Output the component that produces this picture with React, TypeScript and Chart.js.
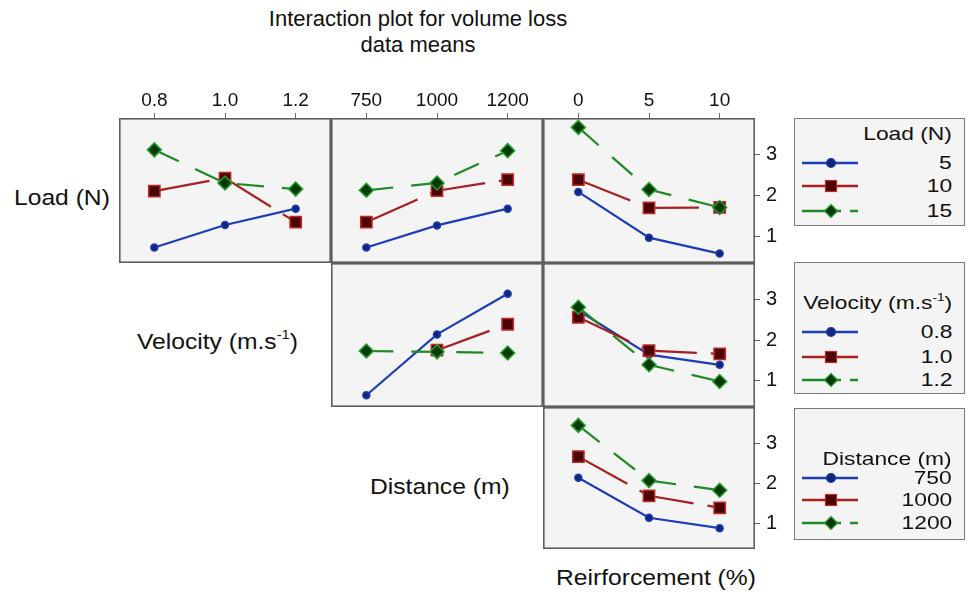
import React, { useEffect, useRef } from "react";
import { Chart, registerables } from "chart.js";
Chart.register(...registerables);

// ---------- data ----------
const velocityLevels = ["0.8", "1.0", "1.2"];
const distanceLevels = ["750", "1000", "1200"];
const reinforcementLevels = ["0", "5", "10"];
const loadLevels = ["5", "10", "15"];
const yTicks = [1, 2, 3];

// row Load (N)
const loadVel_5 = [0.73, 1.28, 1.68];
const loadVel_10 = [2.11, 2.43, 1.35];
const loadVel_15 = [3.12, 2.31, 2.16];
const loadDist_5 = [0.73, 1.27, 1.68];
const loadDist_10 = [1.35, 2.12, 2.39];
const loadDist_15 = [2.13, 2.31, 3.1];
const loadReinf_5 = [2.09, 0.97, 0.58];
const loadReinf_10 = [2.39, 1.7, 1.71];
const loadReinf_15 = [3.67, 2.15, 1.71];
// row Velocity
const velDist_08 = [0.64, 2.14, 3.14];
const velDist_10 = [null, 1.75, 2.39];
const velDist_12 = [1.73, 1.71, 1.68];
const velReinf_08 = [2.73, 1.64, 1.39];
const velReinf_10 = [2.56, 1.74, 1.66];
const velReinf_12 = [2.81, 1.39, 0.98];
// row Distance
const distReinf_750 = [2.13, 1.13, 0.87];
const distReinf_1000 = [2.66, 1.68, 1.38];
const distReinf_1200 = [3.44, 2.06, 1.82];

// ---------- layout ----------
const FONT = "'Liberation Sans', Arial, Helvetica, sans-serif";
const COL_X = [119, 331, 543, 755];
const ROW_Y = [118, 263, 407, 549];
const TOP_H = 34;
const RIGHT_W = 40;
const Y_MIN = 0.35;
const Y_MAX = 3.9;

const BLUE = "#1d3db8";
const RED = "#a81f1f";
const GREEN = "#1f8a25";

const seriesStyles = [
  {
    borderColor: BLUE,
    pointBackgroundColor: "#14257a",
    pointBorderColor: BLUE,
    pointStyle: "circle",
    pointRadius: 3.5,
    borderWidth: 2.2,
    borderDash: [],
    order: 2,
  },
  {
    borderColor: RED,
    pointBackgroundColor: "#4a0606",
    pointBorderColor: "#c02828",
    pointStyle: "rect",
    pointRadius: 8,
    borderWidth: 2.2,
    borderDash: [56, 14],
    order: 1,
  },
  {
    borderColor: GREEN,
    pointBackgroundColor: "#063a08",
    pointBorderColor: "#24a02a",
    pointStyle: "rectRot",
    pointRadius: 7,
    borderWidth: 2.2,
    borderDash: [27, 18],
    order: 0,
  },
];

const panelFrame = {
  id: "panelFrame",
  beforeDatasetsDraw(chart: any) {
    const { ctx, chartArea: a } = chart;
    ctx.save();
    ctx.fillStyle = "#f4f4f4";
    ctx.fillRect(a.left, a.top, a.right - a.left, a.bottom - a.top);
    ctx.restore();
  },
  afterDraw(chart: any) {
    const { ctx, chartArea: a } = chart;
    ctx.save();
    ctx.strokeStyle = "#5e5e5e";
    ctx.lineWidth = 1.6;
    ctx.strokeRect(a.left + 0.8, a.top + 0.8, a.right - a.left - 1.6, a.bottom - a.top - 1.6);
    ctx.restore();
  },
};

function zeroPad(s: any) {
  s.paddingTop = 0;
  s.paddingBottom = 0;
  s.paddingLeft = 0;
  s.paddingRight = 0;
}

function Panel({ row, col, labels, series }: { row: number; col: number; labels: string[]; series: (number | null)[][] }) {
  const ref = useRef<HTMLCanvasElement>(null);
  const showTop = row === 0;
  const showRight = col === 2;
  const left = COL_X[col];
  const top = ROW_Y[row] - (showTop ? TOP_H : 0);
  const width = COL_X[col + 1] - COL_X[col] + (showRight ? RIGHT_W : 0);
  const height = ROW_Y[row + 1] - ROW_Y[row] + (showTop ? TOP_H : 0);

  useEffect(() => {
    if (!ref.current) return;
    const chart = new Chart(ref.current, {
      type: "line",
      data: {
        labels,
        datasets: series.map((d, i) => ({
          data: d,
          ...(seriesStyles[i] as any),
          fill: false,
          tension: 0,
          pointBorderWidth: 1.5,
          spanGaps: false,
        })),
      },
      options: {
        animation: false,
        responsive: false,
        maintainAspectRatio: false,
        devicePixelRatio: 1,
        layout: { padding: 0, autoPadding: false },
        plugins: { legend: { display: false }, tooltip: { enabled: false }, title: { display: false } },
        scales: {
          x: {
            type: "category",
            position: "top",
            offset: true,
            display: showTop,
            grid: { display: true, drawOnChartArea: false, drawTicks: true, tickLength: 5, color: "#666", offset: false, lineWidth: 1 },
            border: { display: false },
            ticks: { font: { family: FONT, size: 19 }, color: "#111", padding: 1, maxRotation: 0, autoSkip: false },
            afterFit: (s: any) => {
              s.height = showTop ? TOP_H : 0;
              zeroPad(s);
            },
          } as any,
          y: {
            type: "linear",
            position: "right",
            min: Y_MIN,
            max: Y_MAX,
            display: showRight,
            afterBuildTicks: (s: any) => {
              s.ticks = yTicks.map((v) => ({ value: v }));
            },
            grid: { display: true, drawOnChartArea: false, drawTicks: true, tickLength: 5, color: "#666", lineWidth: 1 },
            border: { display: false },
            ticks: { font: { family: FONT, size: 20 }, color: "#111", padding: 6 },
            afterFit: (s: any) => {
              s.width = showRight ? RIGHT_W : 0;
              zeroPad(s);
            },
          } as any,
        },
      },
      plugins: [panelFrame],
    });
    return () => chart.destroy();
  }, []);

  return (
    <canvas
      ref={ref}
      width={width}
      height={height}
      style={{ position: "absolute", left, top, width, height, display: "block" }}
    />
  );
}

function Sample({ kind }: { kind: number }) {
  return (
    <svg width={60} height={16} style={{ position: "absolute", left: 6, top: -8 }}>
      {kind === 2 ? (
        <>
          <line x1={1} y1={8} x2={40} y2={8} stroke={GREEN} strokeWidth={2.5} />
          <line x1={49} y1={8} x2={57} y2={8} stroke={GREEN} strokeWidth={2.5} />
        </>
      ) : (
        <line x1={1} y1={8} x2={57} y2={8} stroke={kind === 0 ? BLUE : RED} strokeWidth={2.5} />
      )}
      {kind === 0 && <circle cx={30} cy={8} r={4.5} fill="#14257a" stroke={BLUE} strokeWidth={1.2} />}
      {kind === 1 && <rect x={24.5} y={2.5} width={11} height={11} fill="#4a0606" stroke="#c02828" strokeWidth={1.2} />}
      {kind === 2 && <polygon points="30,1.5 36.5,8 30,14.5 23.5,8" fill="#063a08" stroke="#24a02a" strokeWidth={1.2} />}
    </svg>
  );
}

const legendText: React.CSSProperties = {
  position: "absolute",
  lineHeight: "22px",
  fontSize: 19,
  whiteSpace: "nowrap",
  transform: "scaleX(1.2)",
  transformOrigin: "right center",
};

function LegendBox({ top, height, title, titleY, items, itemY }: { top: number; height: number; title: React.ReactNode; titleY: number; items: string[]; itemY: number[] }) {
  return (
    <div
      style={{
        position: "absolute",
        left: 794,
        top,
        width: 171,
        height,
        boxSizing: "border-box",
        border: "1.5px solid #7a7a7a",
        background: "#f4f4f4",
      }}
    >
      <div style={{ ...legendText, right: 12, top: titleY - top - 11 }}>{title}</div>
      {items.map((it, i) => (
        <div key={it} style={{ position: "absolute", left: 0, right: 12, top: itemY[i] - top, height: 0 }}>
          <Sample kind={i} />
          <div style={{ ...legendText, right: 0, top: -11 }}>{it}</div>
        </div>
      ))}
    </div>
  );
}

function Label({ x, y, children }: { x: number; y: number; children: React.ReactNode }) {
  return (
    <div
      style={{
        position: "absolute",
        left: x,
        top: y - 14,
        lineHeight: "28px",
        fontSize: 22,
        whiteSpace: "nowrap",
        transform: "scaleX(1.12)",
        transformOrigin: "left center",
      }}
    >
      {children}
    </div>
  );
}

export default function App() {
  const sup = <sup style={{ fontSize: "0.6em", lineHeight: 0, position: "relative", top: "-0.1em" }}>-1</sup>;
  return (
    <div
      style={{
        position: "fixed",
        left: 0,
        top: 0,
        width: 969,
        height: 594,
        background: "#fff",
        fontFamily: FONT,
        color: "#111",
        overflow: "hidden",
      }}
    >
      <div style={{ position: "absolute", left: 168, width: 500, top: 6, textAlign: "center", fontSize: 22, lineHeight: "26px" }}>
        Interaction plot for volume loss
        <br />
        data means
      </div>

      <Panel row={0} col={0} labels={velocityLevels} series={[loadVel_5, loadVel_10, loadVel_15]} />
      <Panel row={0} col={1} labels={distanceLevels} series={[loadDist_5, loadDist_10, loadDist_15]} />
      <Panel row={0} col={2} labels={reinforcementLevels} series={[loadReinf_5, loadReinf_10, loadReinf_15]} />
      <Panel row={1} col={1} labels={distanceLevels} series={[velDist_08, velDist_10, velDist_12]} />
      <Panel row={1} col={2} labels={reinforcementLevels} series={[velReinf_08, velReinf_10, velReinf_12]} />
      <Panel row={2} col={2} labels={reinforcementLevels} series={[distReinf_750, distReinf_1000, distReinf_1200]} />

      <Label x={14} y={198}>Load (N)</Label>
      <Label x={137} y={342}>Velocity (m.s{sup})</Label>
      <Label x={370} y={487}>Distance (m)</Label>
      <Label x={556} y={578}>Reirforcement (%)</Label>

      <LegendBox top={118} height={108} title="Load (N)" titleY={133} items={loadLevels} itemY={[162, 185, 210]} />
      <LegendBox top={262} height={132} title={<>Velocity (m.s{sup})</>} titleY={302} items={velocityLevels} itemY={[331, 356, 379]} />
      <LegendBox top={408} height={132} title="Distance (m)" titleY={458} items={distanceLevels} itemY={[477, 499, 522]} />
    </div>
  );
}
